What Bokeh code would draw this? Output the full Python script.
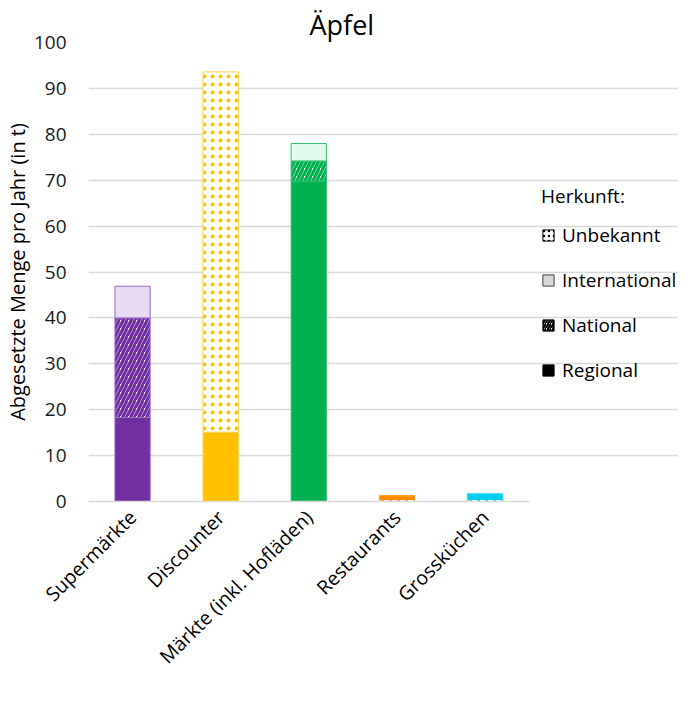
import numpy as np
from bokeh.plotting import figure
from bokeh.models import ColumnDataSource, Legend, LegendItem, FixedTicker
from bokeh.embed import file_html
from bokeh.resources import INLINE

categories = ["Supermärkte", "Discounter", "Märkte (inkl. Hofläden)", "Restaurants", "Grossküchen"]
regional = [18.3, 15.1, 69.8, 0.0, 0.0]
national = [21.7, 0.0, 4.4, 0.0, 0.0]
international = [6.9, 0.0, 3.8, 0.0, 0.0]
unbekannt = [0.0, 78.5, 0.0, 1.3, 1.7]

base_colors = ["#7030A0", "#FFC000", "#00B050", "#FF8C00", "#00CCEE"]
light_colors = ["#E6D9F2", "#FFF2CC", "#E2FAEC", "#FFE8CC", "#D9F7FC"]
edge_colors = ["#9A6CC8", "#FFD040", "#30C070", "#FFA030", "#30D8F0"]

FONT = "Open Sans"
W, H = 678, 681
LEFT, TOP, BOTTOM = 82, 42, 176
slot_px = 89.0
n = len(categories)
xpos = list(range(1, n + 1))
x_end = 0.5 + (W - LEFT) / slot_px

p = figure(x_range=(0.5, x_end), y_range=(0, 100), width=W, height=H,
           output_backend="svg", toolbar_location=None,
           min_border_left=LEFT, min_border_right=0, min_border_top=TOP, min_border_bottom=BOTTOM)

series = [("Regional", regional), ("National", national), ("International", international), ("Unbekannt", unbekannt)]
bottom = np.zeros(n)
for name, vals in series:
    vals = np.array(vals, dtype=float)
    top = bottom + vals
    idx = [i for i in range(n) if vals[i] > 0]
    data = dict(x=[xpos[i] for i in idx], bottom=[bottom[i] for i in idx], top=[top[i] for i in idx],
                edge=[edge_colors[i] for i in idx])
    if name == "Regional":
        data["fill"] = [base_colors[i] for i in idx]
        src = ColumnDataSource(data)
        p.vbar(x="x", bottom="bottom", top="top", width=0.4, source=src, fill_color="fill",
               line_color="edge", line_width=1)
    elif name == "National":
        data["hc"] = [base_colors[i] for i in idx]
        src = ColumnDataSource(data)
        p.vbar(x="x", bottom="bottom", top="top", width=0.4, source=src, fill_color="white",
               hatch_pattern="right_diagonal_line", hatch_color="hc", hatch_weight=3.2, hatch_scale=8,
               line_color="edge", line_width=1)
    elif name == "International":
        data["fill"] = [light_colors[i] for i in idx]
        src = ColumnDataSource(data)
        p.vbar(x="x", bottom="bottom", top="top", width=0.4, source=src, fill_color="fill",
               line_color="edge", line_width=1)
    else:
        data["fill"] = ["white" if categories[i] == "Discounter" else base_colors[i] for i in idx]
        data["hc"] = [base_colors[i] if categories[i] == "Discounter" else "#FFFFFF" for i in idx]
        data["hp"] = ["dot" if categories[i] == "Discounter" else "horizontal_dash" for i in idx]
        src = ColumnDataSource(data)
        p.vbar(x="x", bottom="bottom", top="top", width=0.4, source=src, fill_color="fill",
               hatch_pattern="hp", hatch_color="hc", hatch_weight=2, hatch_scale=8,
               line_color="edge", line_width=1)
    bottom = top

# legend swatch renderers (one undrawn NaN row each)
def dummy(**kw):
    src = ColumnDataSource(dict(x=[xpos[0]], top=[float("nan")], bottom=[float("nan")]))
    return p.vbar(x="x", top="top", bottom="bottom", width=0.4, source=src, **kw)

r_unb = dummy(fill_color="white", line_color="black",
              hatch_pattern="dot", hatch_color="black", hatch_weight=2, hatch_scale=5)
r_int = dummy(fill_color="#D9D9D9", line_color="#404040")
r_nat = dummy(fill_color="white", line_color="black",
              hatch_pattern="right_diagonal_line", hatch_color="black", hatch_weight=2, hatch_scale=5)
r_reg = dummy(fill_color="black", line_color="black")

legend = Legend(items=[LegendItem(label="Unbekannt", renderers=[r_unb]),
                       LegendItem(label="International", renderers=[r_int]),
                       LegendItem(label="National", renderers=[r_nat]),
                       LegendItem(label="Regional", renderers=[r_reg])],
                location=(453, 118), title="Herkunft:",
                title_text_font=FONT, title_text_font_size="19px", title_text_font_style="normal",
                title_text_color="#000000", title_standoff=13,
                label_text_font=FONT, label_text_font_size="19px", label_text_color="#000000",
                glyph_width=14, glyph_height=14, label_standoff=7, spacing=19,
                padding=0, margin=0, border_line_color=None, background_fill_alpha=0)
p.add_layout(legend, "center")

p.title.text = "Äpfel"
p.title.align = "left"
p.title.offset = 221
p.title.standoff = 0
p.title.text_font = FONT
p.title.text_font_size = "27px"
p.title.text_font_style = "normal"
p.title.text_color = "#000000"

p.outline_line_color = None
p.xgrid.grid_line_color = None
p.ygrid.grid_line_color = "#D9D9D9"
p.ygrid.grid_line_width = 1.5
p.ygrid.bounds = (0.5, n + 0.5)
p.yaxis.ticker = list(range(0, 101, 10))
p.yaxis.axis_line_color = None
p.yaxis.major_tick_line_color = None
p.yaxis.minor_tick_line_color = None
p.yaxis.major_label_text_font = FONT
p.yaxis.major_label_text_font_size = "19px"
p.yaxis.major_label_text_color = "#1a1a1a"
p.yaxis.major_label_standoff = 16
p.yaxis.axis_label = "Abgesetzte Menge pro Jahr (in t)"
p.yaxis.axis_label_text_font = FONT
p.yaxis.axis_label_text_font_size = "20px"
p.yaxis.axis_label_text_font_style = "normal"
p.yaxis.axis_label_text_color = "#000000"
p.yaxis.axis_label_standoff = 0

p.xaxis.ticker = FixedTicker(ticks=xpos)
p.xaxis.major_label_overrides = {x: c for x, c in zip(xpos, categories)}
p.xaxis.minor_tick_line_color = None
p.xaxis.bounds = (0.5, n + 0.5)
p.xaxis.axis_line_color = "#D9D9D9"
p.xaxis.axis_line_width = 1.5
p.xaxis.major_tick_line_color = None
p.xaxis.major_label_orientation = np.pi / 4
p.xaxis.major_label_standoff = 6
p.xaxis.major_label_text_font = FONT
p.xaxis.major_label_text_font_size = "19.5px"
p.xaxis.major_label_text_color = "#000000"

open("out.html", "w").write(file_html(p, INLINE))
